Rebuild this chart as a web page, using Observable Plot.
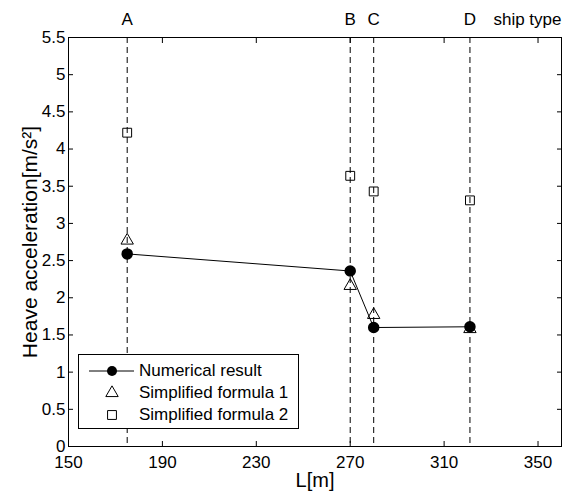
<!DOCTYPE html>
<html><head><meta charset="utf-8">
<script src="https://cdn.jsdelivr.net/npm/d3@7"></script>
<script src="https://cdn.jsdelivr.net/npm/@observablehq/plot@0.6"></script>
<style>
body{margin:0;background:#fff;}
#wrap{position:relative;width:563px;height:498px;font-family:"Liberation Sans",Arial,sans-serif;}
#legend{position:absolute;left:78px;top:354px;width:221px;height:75px;border:1px solid #000;background:#fff;box-sizing:border-box;}
.row{position:absolute;left:0;height:22px;display:flex;align-items:center;font-size:17px;color:#000;white-space:nowrap;}
.row svg{width:60px;height:22px;display:block;}
</style></head><body><div id="wrap"></div>
<script>
// ship types and their lengths
const shipTypes = ["A", "B", "C", "D"];
const shipLength = [175, 270, 280, 321];
// heave acceleration values [m/s^2]
const numerical = [2.59, 2.36, 1.60, 1.61];
const formula1 = [2.77, 2.16, 1.77, 1.58];
const formula2 = [4.22, 3.64, 3.43, 3.31];
// axis ticks
const xTicks = [150, 190, 230, 270, 310, 350];
const yTicks = [0, 0.5, 1, 1.5, 2, 2.5, 3, 3.5, 4, 4.5, 5, 5.5];
const legendLabels = ["Numerical result", "Simplified formula 1", "Simplified formula 2"];

const rows = shipTypes.map((t, i) => ({
  type: t, L: shipLength[i], num: numerical[i], f1: formula1[i], f2: formula2[i]
}));

const font = "Liberation Sans, Arial, sans-serif";

const chart = Plot.plot({
  width: 563,
  height: 498,
  marginLeft: 68,
  marginRight: 2,
  marginTop: 37,
  marginBottom: 52,
  style: {fontSize: "17px", fontFamily: font, color: "#000", background: "#fff", overflow: "visible"},
  x: {domain: [150, 360], label: null},
  y: {domain: [0, 5.5], label: null},
  marks: [
    Plot.ruleX(rows, {x: "L", stroke: "#000", strokeWidth: 1, strokeDasharray: "6,4"}),
    Plot.line(rows, {x: "L", y: "num", stroke: "#000", strokeWidth: 1}),
    Plot.dot(rows, {x: "L", y: "f1", symbol: "triangle", r: 4.6, stroke: "#000", fill: "none", strokeWidth: 1}),
    Plot.dot(rows, {x: "L", y: "f2", symbol: "square", r: 5, stroke: "#000", fill: "none", strokeWidth: 1}),
    Plot.dot(rows, {x: "L", y: "num", r: 5, fill: "#000", stroke: "#000"}),
    Plot.axisX(xTicks, {anchor: "bottom", tickSize: -5, tickPadding: 14, tickFormat: d => String(d), label: null}),
    Plot.axisX(xTicks, {anchor: "top", tickSize: -5, tickFormat: () => "", label: null}),
    Plot.axisY(yTicks, {anchor: "left", tickSize: -5, tickPadding: 8, tickFormat: d => String(d), label: null}),
    Plot.axisY(yTicks, {anchor: "right", tickSize: -5, tickFormat: () => "", label: null}),
    Plot.text(rows, {x: "L", text: "type", frameAnchor: "top", dy: -18, lineAnchor: "middle", fontSize: 17}),
    Plot.text(["ship type"], {frameAnchor: "top-right", text: d => d, textAnchor: "end", dy: -18, lineAnchor: "middle", fontSize: 17}),
    Plot.text(["L[m]"], {frameAnchor: "bottom", text: d => d, dy: 34, lineAnchor: "middle", fontSize: 20}),
    Plot.text(["Heave acceleration[m/s²]"], {frameAnchor: "left", text: d => d, rotate: -90, dx: -38, textAnchor: "middle", lineAnchor: "middle", fontSize: 21}),
    Plot.frame({stroke: "#000", strokeWidth: 1})
  ]
});

const wrap = document.getElementById("wrap");
wrap.appendChild(chart);

// legend
const legend = document.createElement("div");
legend.id = "legend";
const sym = [
  '<line x1="10" x2="55" y1="11" y2="11" stroke="#000" stroke-width="1"/><circle cx="33" cy="11" r="5" fill="#000"/>',
  '<path d="' + d3.symbol(d3.symbolTriangle, Math.PI * 4.6 * 4.6)() + '" transform="translate(33,11)" fill="none" stroke="#000"/>',
  '<path d="' + d3.symbol(d3.symbolSquare, Math.PI * 5 * 5)() + '" transform="translate(33,11)" fill="none" stroke="#000"/>'
];
legendLabels.forEach((lab, i) => {
  const r = document.createElement("div");
  r.className = "row";
  r.style.top = (5 + i * 22) + "px";
  r.innerHTML = '<svg viewBox="0 0 60 22">' + sym[i] + '</svg><span>' + lab + '</span>';
  legend.appendChild(r);
});
wrap.appendChild(legend);
</script>
</body></html>
